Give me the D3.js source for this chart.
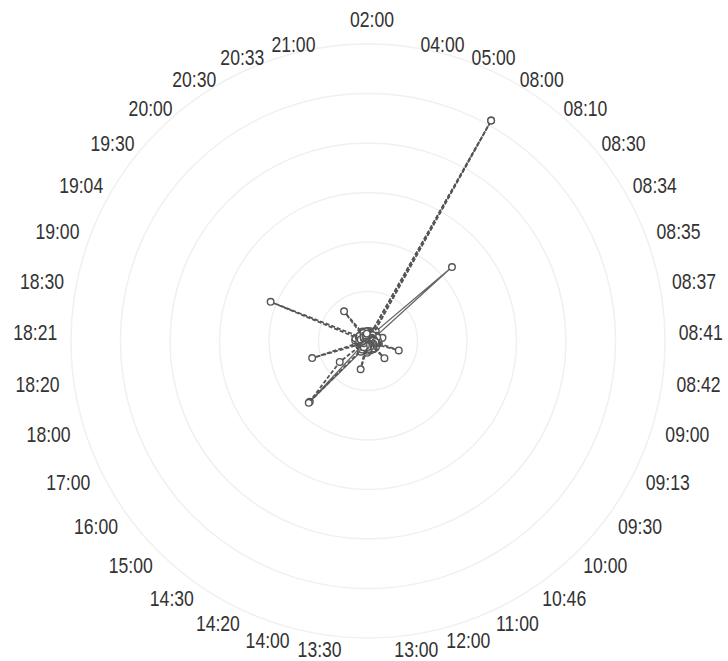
<!DOCTYPE html>
<html>
<head>
<meta charset="utf-8">
<script src="https://cdn.jsdelivr.net/npm/d3@7"></script>
<style>
  html, body { margin: 0; padding: 0; background: #fff; }
  svg { display: block; }
  .lbl { font-family: "Liberation Sans", Arial, sans-serif; font-size: 22px; fill: #333; }
</style>
</head>
<body>
<svg id="chart" width="728" height="661"></svg>
<script>
const categories = ["02:00","04:00","05:00","08:00","08:10","08:30","08:34","08:35","08:37","08:41","08:42","09:00","09:13","09:30","10:00","10:46","11:00","12:00","13:00","13:30","14:00","14:20","14:30","15:00","16:00","17:00","18:00","18:20","18:21","18:30","19:00","19:04","19:30","20:00","20:30","20:33","21:00"];

const seriesA = [1.5,1,1.2,51,1.5,1,0.8,1,1.2,1,1.5,6.5,1.2,1,4.8,1,1.2,0.8,1,1.2,5.9,1,1.5,17.3,7.1,1,11.8,1.2,1,1.5,21.2,1,1.2,7.7,1,1.2,1.5];
const seriesB = [2,1.5,2,2.2,2.5,22.6,2,1.8,3,2,1.5,2,1.8,2,1.5,2,1.5,2,1.8,2,1.5,2,2.6,17,1.5,2,1.8,2,1.5,2.6,2,1.8,1.5,2,2.2,1.8,2];
const seriesC = [0.8,2,1,1.5,0.6,2,1.2,0.8,1.6,0.6,2.2,1,0.7,1.8,1,0.5,1.4,1,0.6,2.4,1,1.5,0.8,1.9,1,0.6,1.4,1,2.6,0.8,1.7,0.7,1.6,1,0.5,1.3,0.9];
const seriesD = [0.5,0.9,1.6,51,1,0.4,1.5,2,0.6,1.3,0.8,1.7,0.5,1.1,0.9,1.8,0.6,1.2,1.6,0.5,1.1,0.7,2.1,1,0.8,1.5,0.6,1.8,1,0.5,1.2,2,0.7,1.4,1.9,0.6,1.2];
const seriesE = [0.6,0.2,0.4,0.5,0.9,0.5,0.3,0.7,0.4,1,0.3,0.6,0.8,0.2,0.9,0.4,0.5,0.3,0.7,0.5,0.8,0.2,0.6,0.4,0.8,0.5,0.3,0.8,0.4,0.6,0.3,0.7,0.5,0.3,0.6,0.9,0.3];
const seriesF = [0.2,0.6,0.3,0.4,0.2,0.7,0.4,0.3,0.5,0.2,0.6,0.3,0.5,0.3,0.6,0.2,0.4,0.7,0.2,0.4,0.3,0.6,0.3,0.5,0.2,0.6,0.4,0.2,0.6,0.3,0.2,0.5,0.3,0.6,0.4,0.2,0.4];
const seriesG = [0.9,0.5,1.1,0.7,1.2,0.4,0.9,1,0.6,0.8,1.1,0.5,1,0.7,0.4,1.2,0.8,0.6,1,0.3,0.9,1.1,0.5,0.7,1,0.8,1.2,0.5,0.9,0.4,1,0.6,1.1,0.8,0.5,1,0.7];

const radiusTicks = [10,20,30,40,50,60];

const svg = d3.select("#chart");
const cx = 368, cy = 341, R = 297;
const g = svg.append("g").attr("transform", `translate(${cx},${cy})`);

const angle = d3.scaleBand().domain(categories).range([0, 2*Math.PI]).paddingInner(0).paddingOuter(0).align(0);
const r = d3.scaleLinear().domain([0, 60]).range([0, R]);

// rings
g.append("g").selectAll("circle").data(radiusTicks).join("circle")
  .attr("r", d => r(d)).attr("fill", "none").attr("stroke", "#f0f0f0").attr("stroke-width", 1.5);

// labels (horizontally condensed via transform)
const labRx = R + 14, labRy = 305, labCy = 4;
g.append("g").selectAll("g").data(categories).join("g")
  .each(function(d){
    const a = angle(d);
    const s = Math.sin(a), c = Math.cos(a);
    let x = labRx * s, y = labCy - labRy * c;
    let anchor = Math.abs(s) < 0.02 ? "middle" : (s > 0 ? "start" : "end");
    if (c > 0.999) { x = 4; y = -322; }
    d3.select(this).attr("transform", `translate(${x},${y}) scale(0.8,1)`)
      .append("text").attr("class", "lbl")
      .attr("dy", "0.36em")
      .attr("text-anchor", anchor)
      .text(d);
  });

const line = d3.lineRadial().angle(d => angle(d.cat)).radius(d => r(d.v));

function drawSeries(vals, opts) {
  const data = categories.map((c, i) => ({cat: c, v: vals[i]}));
  const sg = g.append("g");
  sg.append("path").datum(data)
    .attr("d", line)
    .attr("fill", "none")
    .attr("stroke", opts.color)
    .attr("stroke-width", opts.width)
    .attr("stroke-dasharray", opts.dash || null);
  sg.append("g").selectAll("circle").data(data).join("circle")
    .attr("cx", d => r(d.v) * Math.sin(angle(d.cat)))
    .attr("cy", d => -r(d.v) * Math.cos(angle(d.cat)))
    .attr("r", 3.3)
    .attr("fill", "#fff")
    .attr("stroke", "#555")
    .attr("stroke-width", 1.4);
}

drawSeries(seriesF, {color: "#5a5a5a", width: 2, dash: "4,2"});
drawSeries(seriesE, {color: "#5a5a5a", width: 2, dash: "4,2"});
drawSeries(seriesG, {color: "#5a5a5a", width: 2, dash: "4,2"});
drawSeries(seriesC, {color: "#5a5a5a", width: 1.8, dash: "4,2"});
drawSeries(seriesB, {color: "#666", width: 1.3});
drawSeries(seriesD, {color: "#5a5a5a", width: 1.6, dash: "4,2"});
drawSeries(seriesA, {color: "#555", width: 1.8, dash: "4,2"});
</script>
</body>
</html>
